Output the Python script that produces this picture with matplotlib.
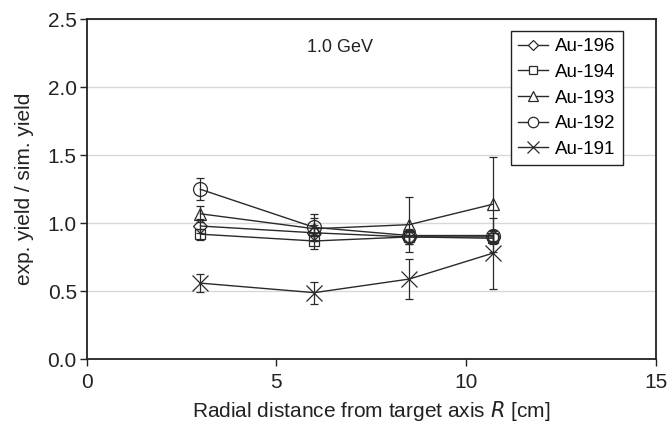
import numpy as np
import matplotlib
matplotlib.use('Agg')
import matplotlib.pyplot as plt
from matplotlib.lines import Line2D

plt.rcParams['font.family'] = ['Liberation Sans', 'DejaVu Sans']

# radial positions [cm]
r = [3.0, 6.0, 8.5, 10.7]

labels = ['Au-196', 'Au-194', 'Au-193', 'Au-192', 'Au-191']
markers = ['D', 's', '^', 'o', 'x']
msizes = [7, 7, 9, 10, 11]

ratio = [
    [0.98, 0.93, 0.90, 0.90],   # Au-196
    [0.92, 0.87, 0.90, 0.89],   # Au-194
    [1.07, 0.96, 0.99, 1.14],   # Au-193
    [1.25, 0.97, 0.91, 0.91],   # Au-192
    [0.56, 0.49, 0.59, 0.78],   # Au-191
]
err = [
    [0.05, 0.06, 0.05, 0.04],
    [0.04, 0.06, 0.05, 0.04],
    [0.06, 0.08, 0.20, 0.35],
    [0.08, 0.10, 0.05, 0.04],
    [0.065, 0.08, 0.15, 0.26],
]

col = '#2a2a2a'
fig = plt.figure(figsize=(6.67, 4.25), dpi=100)
ax = fig.add_axes([86.5/667, 1 - 359.3/425, (656 - 86.5)/667, (359.3 - 19.3)/425])

handles = []
for lab, m, ms, y, e in zip(labels, markers, msizes, ratio, err):
    ax.errorbar(r, y, yerr=e, color=col, lw=1.0,
                marker=m, ms=ms, mfc='none', mec=col, mew=0.9,
                elinewidth=0.9, capsize=3, capthick=0.9)
    handles.append(Line2D([], [], color=col, lw=1.0, marker=m, ms=ms*0.75,
                          mfc='white', mec=col, mew=0.9, label=lab))

ax.set_xlim(0, 15)
ax.set_ylim(0, 2.5)
ax.set_xticks([0, 5, 10, 15])
ax.set_yticks([0.0, 0.5, 1.0, 1.5, 2.0, 2.5])
ax.set_yticklabels(['0.0', '0.5', '1.0', '1.5', '2.0', '2.5'])
ax.yaxis.grid(True, color='#d8d8d8', lw=1.0)
ax.set_axisbelow(True)
ax.tick_params(direction='out', length=5, width=1, colors='#222222', labelsize=15)
ax.tick_params(axis='x', pad=5)
ax.tick_params(axis='y', pad=2)
for s in ax.spines.values():
    s.set_linewidth(1.3)
    s.set_color('#222222')

ax.set_xlabel('Radial distance from target axis $\\it{R}$ [cm]', fontsize=15, color='#222222', labelpad=5)
ax.set_ylabel('exp. yield / sim. yield', fontsize=15, color='#222222', labelpad=10)

ax.text(6.67, 2.29, '1.0 GeV', fontsize=13, ha='center', va='center', color='#222222')

leg = ax.legend(handles=handles, loc='upper right', bbox_to_anchor=(0.942, 0.966),
                borderaxespad=0, fontsize=13.5,
                frameon=True, fancybox=False, edgecolor='#222222', framealpha=1,
                handlelength=1.6, handletextpad=0.35, labelspacing=0.45,
                borderpad=0.4)
leg.get_frame().set_linewidth(1.0)

fig.savefig('out.png', dpi=100)
